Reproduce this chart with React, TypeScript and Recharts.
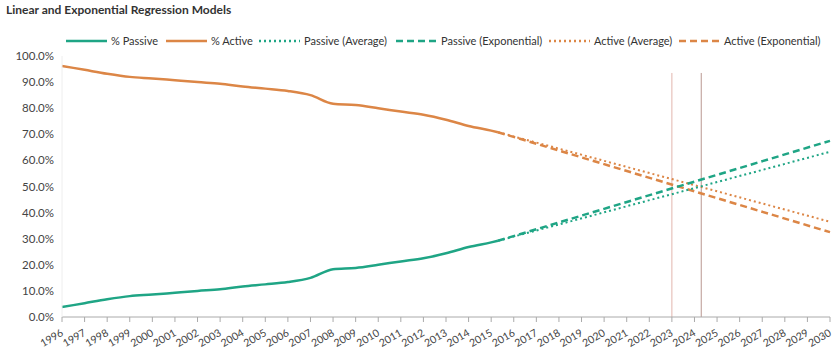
import React from 'react';
import { LineChart, Line, XAxis, YAxis, ReferenceLine } from 'recharts';

const years = [1996, 1997, 1998, 1999, 2000, 2001, 2002, 2003, 2004, 2005, 2006, 2007, 2008, 2009, 2010, 2011, 2012, 2013, 2014, 2015, 2015.3];
const passive = [3.8, 5.3, 6.8, 8.0, 8.6, 9.3, 10.0, 10.6, 11.7, 12.5, 13.4, 15.0, 18.3, 18.8, 20.0, 21.3, 22.5, 24.4, 26.8, 28.6, 29.2];
const active = [96.2, 94.7, 93.2, 92.0, 91.4, 90.7, 90.0, 89.4, 88.3, 87.5, 86.6, 85.0, 81.7, 81.2, 80.0, 78.7, 77.5, 75.6, 73.2, 71.4, 70.8];

const projYears = [2015.3, 2030];
const passiveAvg = [29.2, 63.3];
const passiveExp = [29.2, 67.5];
const activeAvg = [70.8, 36.5];
const activeExp = [70.8, 32.5];

const crossYears = [2023, 2024.3];
const xTicks = Array.from({ length: 35 }, (_, i) => 1996 + i);
const yTicks = [0, 10, 20, 30, 40, 50, 60, 70, 80, 90, 100];

const TEAL = '#1fa585';
const ORANGE = '#dc8646';
const FONT = 'Lato, "Open Sans", sans-serif';

const zip = (xs: number[], ys: number[]) => xs.map((x, i) => ({ x, y: ys[i] }));

// legend sample start positions
const legendItems = [
  { label: '% Passive', color: TEAL, dash: undefined, left: 66 },
  { label: '% Active', color: ORANGE, dash: undefined, left: 166 },
  { label: 'Passive (Average)', color: TEAL, dash: '2 3', left: 259 },
  { label: 'Passive (Exponential)', color: TEAL, dash: '7 4', left: 396 },
  { label: 'Active (Average)', color: ORANGE, dash: '2 3', left: 549 },
  { label: 'Active (Exponential)', color: ORANGE, dash: '7 4', left: 679 },
];

const YearTick = (props: any) => {
  const { x, y, payload } = props;
  return (
    <text
      x={x + 2}
      y={y + 11}
      transform={`rotate(-30, ${x + 2}, ${y + 11})`}
      textAnchor="end"
      fontSize={10.5}
      fontFamily={FONT}
      fill="#444"
    >
      {payload.value}
    </text>
  );
};

export default function App() {
  return (
    <div style={{ position: 'absolute', left: 0, top: 0, width: 840, height: 357, background: '#fff', fontFamily: FONT }}>
      <div style={{ position: 'absolute', left: 6, top: 2, fontSize: 12, fontWeight: 700, color: '#333' }}>
        Linear and Exponential Regression Models
      </div>
      {legendItems.map((it) => (
        <div
          key={it.label}
          style={{ position: 'absolute', left: it.left, top: 34, display: 'flex', alignItems: 'center', whiteSpace: 'nowrap', fontSize: 11, color: '#333' }}
        >
          <svg width={41} height={6} style={{ marginRight: 4, flexShrink: 0 }}>
            <line x1={0} y1={3} x2={41} y2={3} stroke={it.color} strokeWidth={2.5} strokeDasharray={it.dash} />
          </svg>
          <span>{it.label}</span>
        </div>
      ))}
      <div style={{ position: 'absolute', left: 0, top: 0 }}>
        <LineChart width={840} height={357} margin={{ top: 56, right: 10, bottom: 0, left: 0 }}>
          <XAxis
            dataKey="x"
            type="number"
            domain={[1996, 2030]}
            ticks={xTicks}
            interval={0}
            allowDuplicatedCategory={false}
            height={40}
            stroke="#aaa"
            tickSize={5}
            tick={<YearTick />}
          />
          <YAxis
            type="number"
            domain={[0, 100]}
            ticks={yTicks}
            width={62}
            stroke="#eeeeee"
            tickLine={false}
            tickFormatter={(v: number) => `${v.toFixed(1)}%`}
            tick={{ fontSize: 11.5, fill: '#444', fontFamily: FONT }}
          />
          <ReferenceLine segment={[{ x: crossYears[0], y: 0 }, { x: crossYears[0], y: 93.5 }]} stroke="#e2b6ae" strokeWidth={1} />
          <ReferenceLine segment={[{ x: crossYears[1], y: 0 }, { x: crossYears[1], y: 93.5 }]} stroke="#b99790" strokeWidth={1} />
          <Line data={zip(projYears, activeAvg)} dataKey="y" stroke={ORANGE} strokeWidth={2} strokeDasharray="2 3" dot={false} isAnimationActive={false} />
          <Line data={zip(projYears, activeExp)} dataKey="y" stroke={ORANGE} strokeWidth={2.5} strokeDasharray="7 4" dot={false} isAnimationActive={false} />
          <Line data={zip(projYears, passiveAvg)} dataKey="y" stroke={TEAL} strokeWidth={2} strokeDasharray="2 3" dot={false} isAnimationActive={false} />
          <Line data={zip(projYears, passiveExp)} dataKey="y" stroke={TEAL} strokeWidth={2.5} strokeDasharray="7 4" dot={false} isAnimationActive={false} />
          <Line data={zip(years, active)} dataKey="y" type="monotone" stroke={ORANGE} strokeWidth={2.5} dot={false} isAnimationActive={false} />
          <Line data={zip(years, passive)} dataKey="y" type="monotone" stroke={TEAL} strokeWidth={2.5} dot={false} isAnimationActive={false} />
        </LineChart>
      </div>
    </div>
  );
}
